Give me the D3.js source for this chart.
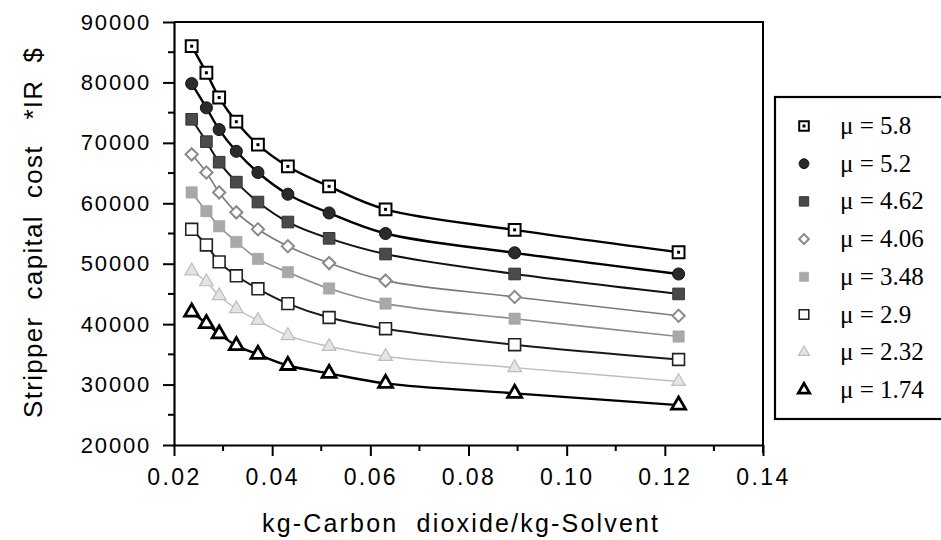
<!DOCTYPE html>
<html>
<head>
<meta charset="utf-8">
<script src="https://cdn.jsdelivr.net/npm/d3@7"></script>
<style>
  html, body { margin: 0; padding: 0; background: #fff; }
  svg { display: block; }
</style>
</head>
<body>
<svg id="chart" width="941" height="540"></svg>
<script>
// CO2 loading (kg CO2 / kg solvent) at which each stripper was sized
const loadings = [0.0236, 0.0266, 0.0292, 0.0327, 0.0371, 0.0432, 0.0516, 0.0631, 0.0894, 0.1228];

// Stripper capital cost (*IR $) for each viscosity mu
const mu = ["5.8", "5.2", "4.62", "4.06", "3.48", "2.9", "2.32", "1.74"];
const cost58  = [86000, 81600, 77500, 73500, 69700, 66100, 62800, 59000, 55600, 51900];
const cost52  = [79800, 75800, 72200, 68600, 65100, 61500, 58400, 55000, 51800, 48300];
const cost462 = [73900, 70200, 66800, 63500, 60200, 56900, 54200, 51600, 48300, 45000];
const cost406 = [68100, 65100, 61800, 58500, 55700, 52900, 50100, 47200, 44500, 41400];
const cost348 = [61800, 58700, 56200, 53600, 50800, 48600, 45900, 43400, 40900, 37950];
const cost29  = [55700, 53100, 50300, 48000, 45850, 43400, 41100, 39250, 36600, 34150];
const cost232 = [48800, 47000, 44700, 42550, 40600, 38100, 36300, 34650, 32800, 30500];
const cost174 = [42000, 40100, 38400, 36450, 35000, 33160, 31850, 30200, 28550, 26600];

const xTicks = [0.02, 0.04, 0.06, 0.08, 0.10, 0.12, 0.14];
const yTicks = [20000, 30000, 40000, 50000, 60000, 70000, 80000, 90000];

const costs = [cost58, cost52, cost462, cost406, cost348, cost29, cost232, cost174];

// Drawing style for each curve
const styles = [
  { shape: d3.symbolSquare,   size: 140, fill: "#fff",  stroke: "#000",  sw: 2,   line: "#000",  lw: 2.4, dot: true },
  { shape: d3.symbolCircle,   size: 115, fill: "#2a2a2a", stroke: "#111", sw: 1, line: "#000",  lw: 2.4 },
  { shape: d3.symbolSquare,   size: 135, fill: "#4a4a4a", stroke: "#333", sw: 1, line: "#111",  lw: 2.0 },
  { shape: d3.symbolSquare,   size: 75,  fill: "#fff",  stroke: "#8a8a8a", sw: 2, line: "#7a7a7a", lw: 1.6, rot: 45 },
  { shape: d3.symbolSquare,   size: 130, fill: "#a8a8a8", stroke: "#a0a0a0", sw: 0.5, line: "#8c8c8c", lw: 1.6 },
  { shape: d3.symbolSquare,   size: 140, fill: "#fff",  stroke: "#222",  sw: 1.6, line: "#1a1a1a", lw: 2.0 },
  { shape: d3.symbolTriangle, size: 80,  fill: "#e4e4e4", stroke: "#bdbdbd", sw: 1.2, line: "#bdbdbd", lw: 1.4 },
  { shape: d3.symbolTriangle, size: 85,  fill: "#fff",  stroke: "#000",  sw: 2.8, line: "#000",  lw: 2.4 }
];

const svg = d3.select("#chart");

const x = d3.scaleLinear().domain([0.02, 0.14]).range([174, 763]);
const y = d3.scaleLinear().domain([20000, 90000]).range([445, 22]);

const tickFont = "'Liberation Sans', Arial, Helvetica, sans-serif";

// Frame: top and right edges
svg.append("path")
  .attr("d", `M${x(0.02)},${y(90000)}H${x(0.14)}V${y(20000) + 8}`)
  .attr("fill", "none").attr("stroke", "#000").attr("stroke-width", 2);

// Y axis with minor ticks every 5000
const yMinor = d3.range(25000, 90000, 10000);
const yAxis = svg.append("g").attr("transform", `translate(${x(0.02)},0)`)
  .call(d3.axisLeft(y).tickValues(yTicks).tickSize(11).tickSizeOuter(0).tickPadding(12)
    .tickFormat(d3.format("d")));
yAxis.select(".domain").attr("stroke-width", 2.2);
yAxis.selectAll(".tick line").attr("stroke-width", 2);
yAxis.selectAll(".tick text")
  .attr("font-family", tickFont).attr("font-size", 22).attr("letter-spacing", 1.8).attr("fill", "#000");
svg.append("g").selectAll("line").data(yMinor).join("line")
  .attr("x1", x(0.02) - 6).attr("x2", x(0.02))
  .attr("y1", d => y(d)).attr("y2", d => y(d))
  .attr("stroke", "#000").attr("stroke-width", 2);

// X axis with minor ticks every 0.01
const xMinor = d3.range(0.03, 0.14, 0.02);
const xAxis = svg.append("g").attr("transform", `translate(0,${y(20000)})`)
  .call(d3.axisBottom(x).tickValues(xTicks).tickSize(11).tickSizeOuter(0).tickPadding(13)
    .tickFormat(d3.format(".2f")));
xAxis.select(".domain").attr("stroke-width", 2.2);
xAxis.selectAll(".tick line").attr("stroke-width", 2);
xAxis.selectAll(".tick text")
  .attr("font-family", tickFont).attr("font-size", 23).attr("letter-spacing", 2.4).attr("fill", "#000");
svg.append("g").selectAll("line").data(xMinor).join("line")
  .attr("x1", d => x(d)).attr("x2", d => x(d))
  .attr("y1", y(20000)).attr("y2", y(20000) + 6)
  .attr("stroke", "#000").attr("stroke-width", 2);

// Axis titles
svg.append("text")
  .attr("x", 460).attr("y", 532)
  .attr("text-anchor", "middle")
  .attr("font-family", tickFont).attr("font-size", 25)
  .attr("textLength", 396).attr("lengthAdjust", "spacing")
  .attr("xml:space", "preserve")
  .text("kg-Carbon  dioxide/kg-Solvent");

svg.append("text")
  .attr("transform", "translate(42,233) rotate(-90)")
  .attr("text-anchor", "middle")
  .attr("font-family", tickFont).attr("font-size", 26)
  .attr("textLength", 370).attr("lengthAdjust", "spacing")
  .attr("xml:space", "preserve")
  .text("Stripper  capital  cost   *IR  $");

// Curves and markers
const line = d3.line()
  .x((d, i) => x(loadings[i]))
  .y(d => y(d))
  .curve(d3.curveCatmullRom.alpha(0.5));

const series = svg.append("g");
costs.forEach((vals, k) => {
  const s = styles[k];
  series.append("path")
    .attr("d", line(vals))
    .attr("fill", "none").attr("stroke", s.line).attr("stroke-width", s.lw);
});

function drawMarker(g, s, cx, cy, scale) {
  g.append("path")
    .attr("transform", `translate(${cx},${cy}) rotate(${s.rot || 0})`)
    .attr("d", d3.symbol().type(s.shape).size(s.size * scale)())
    .attr("fill", s.fill).attr("stroke", s.stroke).attr("stroke-width", s.sw);
  if (s.dot) {
    g.append("rect")
      .attr("x", cx - 1.5).attr("y", cy - 1.5).attr("width", 3).attr("height", 3)
      .attr("fill", "#000");
  }
}

costs.forEach((vals, k) => {
  const g = series.append("g");
  vals.forEach((v, i) => drawMarker(g, styles[k], x(loadings[i]), y(v), 1));
});

// Legend
const legend = svg.append("g");
legend.append("rect")
  .attr("x", 775).attr("y", 97).attr("width", 180).attr("height", 322)
  .attr("fill", "#fff").attr("stroke", "#000").attr("stroke-width", 2.2);

mu.forEach((m, k) => {
  const cy = 126 + k * 37.7;
  drawMarker(legend, styles[k], 804, cy, 0.65);
  legend.append("text")
    .attr("x", 840).attr("y", cy + 8)
    .attr("font-family", "'Liberation Serif', 'Times New Roman', serif")
    .attr("font-size", 25)
    .attr("fill", "#000")
    .text(`\u03bc = ${m}`);
});
</script>
</body>
</html>
